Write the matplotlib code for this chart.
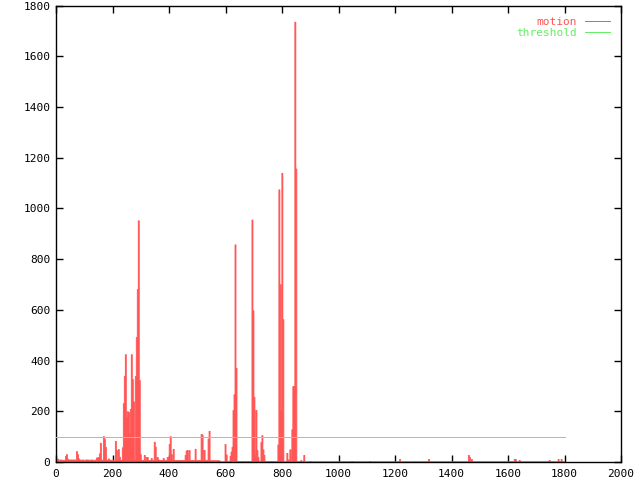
import numpy as np
import matplotlib
matplotlib.use("Agg")
import matplotlib.pyplot as plt

# ---- data ----
# motion values for frames 0 .. ~880, sampled every frame_step frames
frame_step = 3.53
motion_near = [
    9, 13, 9, 9, 10, 9, 9, 9, 9, 24, 31, 13, 10, 10, 10, 10, 10, 10, 10, 10,
    43, 31, 14, 10, 9, 9, 10, 9, 9, 9, 10, 10, 9, 9, 9, 10, 9, 9, 9, 9,
    18, 18, 20, 34, 76, 9, 9, 102, 92, 60, 9, 9, 14, 9, 9, 9, 9, 9, 4, 83,
    47, 9, 51, 21, 9, 9, 58, 232, 340, 425, 176, 200, 198, 115, 209, 425, 327, 239, 10, 339,
    493, 682, 953, 323, 31, 8, 8, 8, 28, 8, 20, 20, 8, 8, 8, 16, 8, 8, 80, 61,
    8, 20, 10, 8, 8, 8, 8, 16, 8, 8, 8, 20, 20, 71, 102, 31, 8, 52, 8, 8,
    8, 8, 8, 8, 8, 8, 8, 8, 8, 28, 45, 47, 8, 47, 8, 8, 8, 8, 8, 52,
    8, 8, 8, 8, 8, 110, 108, 8, 48, 8, 8, 8, 92, 123, 7, 7, 7, 7, 7, 7,
    7, 7, 7, 7, 3, 3, 3, 3, 3, 71, 30, 4, 4, 4, 24, 41, 60, 205, 267, 858,
    371, 4, 4, 4, 4, 4, 4, 4, 4, 4, 4, 4, 4, 4, 4, 4, 956, 598, 257, 30,
    205, 47, 21, 4, 4, 79, 106, 50, 28, 4, 4, 4, 4, 4, 4, 4, 4, 4, 4, 4,
    4, 4, 69, 1075, 701, 205, 1140, 563, 3, 3, 3, 36, 10, 3, 50, 3, 129, 299, 300, 1736,
    1157, 3, 3, 3, 3, 8, 3, 3, 28, 3,
]
# later frames: flat low level with a few small spikes
far_base = 3
far_frames = [897, 1045, 1108, 1214, 1317, 1458, 1462, 1469, 1620, 1624, 1638, 1744, 1776, 1786]
far_values = [4, 4, 4, 12, 12, 28, 21, 12, 12, 12, 8, 8, 12, 12]
last_frame = 1800

threshold = 100
threshold_span = [0, 1800]

x_ticks = list(range(0, 2001, 200))
y_ticks = list(range(0, 1801, 200))

# ---- build series ----
frames = np.arange(0, last_frame, frame_step)
motion = np.full(len(frames), float(far_base))
motion[:len(motion_near)] = motion_near
for f, v in zip(far_frames, far_values):
    motion[int(round(f / frame_step))] = v

RED = "#ff5555"
GREEN = "#66ee66"

plt.rcParams["font.family"] = ["DejaVu Sans Mono"]
fig = plt.figure(figsize=(6.4, 4.8), dpi=100)
ax = fig.add_axes([56 / 640, 1 - 462 / 480, (621 - 56) / 640, (462 - 5.5) / 480])

ax.fill_between(frames, 0, motion, step="post", facecolor=RED, edgecolor=RED,
                linewidth=0.6, antialiased=False, zorder=2)
ax.plot([], [], color=RED, lw=0.72, label="motion", antialiased=False)
ax.plot(threshold_span, [threshold, threshold], color=GREEN, lw=0.72, label="threshold",
        zorder=3, antialiased=False)

ax.set_xlim(0, 2000)
ax.set_ylim(0, 1800)
ax.set_xticks(x_ticks)
ax.set_yticks(y_ticks)
ax.tick_params(direction="in", length=5, width=1, top=True, right=True,
               labelsize=8, pad=4, colors="black")
ax.tick_params(axis="x", pad=5)
for s in ax.spines.values():
    s.set_linewidth(1)
    s.set_color("black")

leg = ax.legend(loc="upper right", frameon=False, fontsize=8, handlelength=2.2,
                markerfirst=False, borderaxespad=0.6, handletextpad=0.8,
                labelspacing=0.15)
for t, c in zip(leg.get_texts(), [RED, GREEN]):
    t.set_color(c)

fig.savefig("out.png", dpi=100)
